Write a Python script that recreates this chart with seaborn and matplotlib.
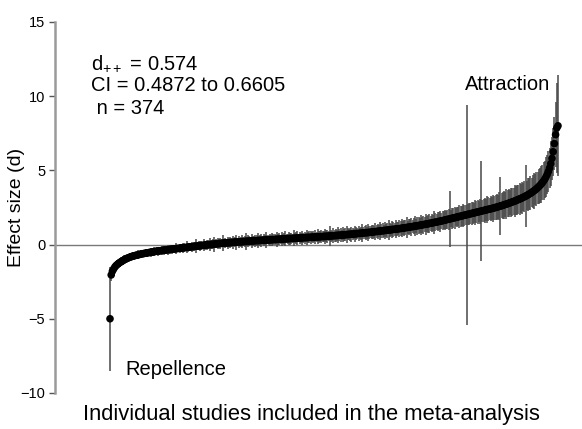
import numpy as np
import pandas as pd
import matplotlib
matplotlib.use("Agg")
import matplotlib.pyplot as plt
import seaborn as sns

# Effect sizes (d) of the 374 studies, sorted from lowest to highest
effect = [
    -5.00, -2.05, -1.80, -1.65, -1.52, -1.42, -1.35, -1.28, -1.22, -1.17, -1.12, -1.07, -1.02, -0.98, -0.94, -0.90, -0.87, -0.84, -0.81, -0.78,
    -0.76, -0.74, -0.72, -0.70, -0.68, -0.66, -0.64, -0.62, -0.61, -0.59, -0.58, -0.56, -0.55, -0.53, -0.52, -0.50, -0.49, -0.48, -0.46, -0.45,
    -0.44, -0.43, -0.42, -0.40, -0.39, -0.38, -0.37, -0.36, -0.35, -0.34, -0.33, -0.32, -0.31, -0.30, -0.29, -0.28, -0.27, -0.26, -0.25, -0.24,
    -0.23, -0.22, -0.21, -0.20, -0.19, -0.18, -0.17, -0.16, -0.15, -0.14, -0.13, -0.12, -0.11, -0.10, -0.09, -0.08, -0.07, -0.06, -0.05, -0.04,
    -0.03, -0.02, -0.01, 0.00, 0.00, 0.01, 0.02, 0.03, 0.04, 0.05, 0.06, 0.07, 0.07, 0.08, 0.09, 0.10, 0.10, 0.11, 0.12, 0.12,
    0.13, 0.14, 0.14, 0.15, 0.16, 0.16, 0.17, 0.18, 0.18, 0.19, 0.19, 0.20, 0.21, 0.21, 0.22, 0.22, 0.23, 0.24, 0.24, 0.25,
    0.25, 0.26, 0.26, 0.27, 0.27, 0.28, 0.28, 0.29, 0.29, 0.30, 0.30, 0.31, 0.31, 0.32, 0.32, 0.33, 0.33, 0.34, 0.34, 0.35,
    0.35, 0.36, 0.36, 0.37, 0.37, 0.38, 0.38, 0.39, 0.39, 0.40, 0.40, 0.41, 0.41, 0.42, 0.42, 0.43, 0.43, 0.44, 0.44, 0.45,
    0.45, 0.46, 0.46, 0.47, 0.47, 0.48, 0.48, 0.49, 0.49, 0.50, 0.50, 0.51, 0.51, 0.52, 0.52, 0.53, 0.53, 0.54, 0.54, 0.55,
    0.55, 0.56, 0.57, 0.57, 0.58, 0.59, 0.59, 0.60, 0.61, 0.61, 0.62, 0.63, 0.63, 0.64, 0.65, 0.65, 0.66, 0.67, 0.68, 0.68,
    0.69, 0.70, 0.71, 0.71, 0.72, 0.73, 0.74, 0.75, 0.75, 0.76, 0.77, 0.78, 0.79, 0.80, 0.80, 0.81, 0.82, 0.83, 0.84, 0.85,
    0.86, 0.87, 0.88, 0.89, 0.90, 0.91, 0.92, 0.93, 0.94, 0.95, 0.96, 0.97, 0.98, 0.99, 1.00, 1.01, 1.02, 1.03, 1.04, 1.05,
    1.06, 1.07, 1.08, 1.10, 1.11, 1.12, 1.13, 1.15, 1.16, 1.17, 1.19, 1.20, 1.21, 1.23, 1.24, 1.25, 1.27, 1.28, 1.30, 1.31,
    1.33, 1.34, 1.36, 1.37, 1.39, 1.40, 1.42, 1.44, 1.45, 1.47, 1.49, 1.50, 1.52, 1.54, 1.56, 1.57, 1.59, 1.61, 1.63, 1.65,
    1.67, 1.69, 1.71, 1.73, 1.75, 1.77, 1.79, 1.81, 1.83, 1.85, 1.87, 1.89, 1.91, 1.93, 1.95, 1.97, 1.99, 2.01, 2.03, 2.05,
    2.07, 2.09, 2.11, 2.13, 2.15, 2.17, 2.19, 2.21, 2.23, 2.25, 2.27, 2.29, 2.31, 2.33, 2.35, 2.37, 2.39, 2.41, 2.43, 2.45,
    2.47, 2.50, 2.52, 2.54, 2.57, 2.59, 2.62, 2.64, 2.67, 2.70, 2.72, 2.75, 2.78, 2.81, 2.84, 2.87, 2.90, 2.93, 2.96, 3.00,
    3.03, 3.07, 3.10, 3.14, 3.18, 3.22, 3.26, 3.30, 3.35, 3.40, 3.45, 3.50, 3.56, 3.62, 3.68, 3.75, 3.82, 3.90, 3.98, 4.07,
    4.17, 4.28, 4.40, 4.55, 4.72, 4.92, 5.15, 5.45, 5.80, 6.25, 6.80, 7.40, 7.85, 8.00,
]

# Half-width of each study's confidence interval
ci_half = [
    3.50, 0.40, 0.35, 0.30, 0.30, 0.28, 0.30, 0.25, 0.28, 0.30, 0.25, 0.28, 0.30, 0.25, 0.22, 0.28, 0.25, 0.30, 0.22, 0.25,
    0.28, 0.22, 0.25, 0.30, 0.22, 0.25, 0.28, 0.20, 0.25, 0.22, 0.28, 0.25, 0.20, 0.25, 0.30, 0.22, 0.25, 0.28, 0.22, 0.25,
    0.30, 0.25, 0.22, 0.28, 0.25, 0.30, 0.22, 0.25, 0.35, 0.25, 0.28, 0.22, 0.30, 0.25, 0.28, 0.35, 0.25, 0.22, 0.30, 0.28,
    0.25, 0.35, 0.28, 0.25, 0.40, 0.30, 0.25, 0.28, 0.35, 0.25, 0.30, 0.28, 0.45, 0.25, 0.30, 0.35, 0.28, 0.25, 0.40, 0.30,
    0.28, 0.35, 0.30, 0.45, 0.28, 0.30, 0.35, 0.50, 0.30, 0.28, 0.35, 0.30, 0.40, 0.28, 0.55, 0.30, 0.35, 0.28, 0.40, 0.30,
    0.35, 0.30, 0.45, 0.28, 0.35, 0.50, 0.30, 0.40, 0.28, 0.35, 0.45, 0.30, 0.35, 0.55, 0.30, 0.40, 0.35, 0.30, 0.45, 0.35,
    0.30, 0.40, 0.35, 0.50, 0.30, 0.35, 0.45, 0.30, 0.40, 0.35, 0.55, 0.30, 0.35, 0.40, 0.30, 0.45, 0.35, 0.40, 0.30, 0.50,
    0.35, 0.40, 0.30, 0.45, 0.35, 0.40, 0.50, 0.30, 0.35, 0.45, 0.40, 0.35, 0.30, 0.55, 0.35, 0.40, 0.45, 0.30, 0.40, 0.35,
    0.45, 0.35, 0.40, 0.30, 0.50, 0.35, 0.40, 0.45, 0.35, 0.40, 0.30, 0.45, 0.35, 0.50, 0.40, 0.35, 0.45, 0.40, 0.35, 0.50,
    0.40, 0.45, 0.35, 0.70, 0.40, 0.35, 0.50, 0.40, 0.45, 0.35, 0.55, 0.40, 0.45, 0.35, 0.50, 0.40, 0.45, 0.60, 0.40, 0.35,
    0.45, 0.50, 0.40, 0.35, 0.55, 0.45, 0.40, 0.50, 0.35, 0.45, 0.60, 0.40, 0.45, 0.50, 0.40, 0.55, 0.45, 0.40, 0.50, 0.45,
    0.40, 0.55, 0.45, 0.50, 0.40, 0.60, 0.45, 0.50, 0.40, 0.55, 0.45, 0.50, 0.65, 0.45, 0.40, 0.55, 0.50, 0.45, 0.60, 0.50,
    0.45, 0.55, 0.50, 0.60, 0.45, 0.55, 0.50, 0.70, 0.45, 0.55, 0.50, 0.60, 0.45, 0.55, 0.65, 0.50, 0.60, 0.55, 0.50, 0.65,
    0.55, 0.60, 0.50, 0.70, 0.55, 0.60, 0.65, 0.50, 0.60, 0.55, 0.75, 0.60, 0.55, 0.65, 0.60, 0.70, 0.55, 0.65, 0.60, 0.70,
    0.60, 0.65, 0.70, 1.90, 0.60, 0.70, 0.65, 0.75, 0.60, 0.70, 0.65, 0.80, 0.70, 0.65, 0.75, 0.70, 0.65, 7.40, 0.70, 0.75,
    0.70, 0.80, 0.75, 0.70, 0.85, 0.75, 0.80, 0.70, 0.85, 3.35, 0.75, 0.80, 0.85, 0.75, 0.90, 0.80, 0.75, 0.85, 0.80, 0.90,
    0.80, 0.85, 0.90, 0.80, 0.95, 1.95, 0.85, 0.90, 0.95, 0.85, 1.00, 0.90, 0.95, 0.85, 1.00, 0.95, 0.90, 1.05, 0.95, 1.00,
    0.95, 1.05, 1.00, 1.10, 0.95, 1.05, 2.10, 1.00, 1.10, 1.05, 1.15, 1.00, 1.10, 1.20, 1.05, 1.15, 1.10, 1.20, 1.15, 1.25,
    1.20, 1.30, 1.25, 1.35, 1.30, 1.40, 1.35, 1.50, 1.45, 1.60, 1.80, 2.20, 3.00, 3.40,
]

y_ticks = [-10, -5, 0, 5, 10, 15]
y_tick_labels = ["\u221210", "\u22125", "0", "5", "10", "15"]
stats_lines = ["d$_{++}$ = 0.574", "CI = 0.4872 to 0.6605", " n = 374"]

FONT = "Liberation Sans"


def build_frame():
    df = pd.DataFrame({"effect": effect, "half": ci_half})
    df["study"] = np.arange(len(df))
    df["lo"] = df["effect"] - df["half"]
    df["hi"] = df["effect"] + df["half"]
    return df


def main():
    sns.set_theme(style="white")
    plt.rcParams["font.family"] = [FONT, "DejaVu Sans"]
    plt.rcParams["mathtext.fontset"] = "custom"
    plt.rcParams["mathtext.rm"] = FONT
    plt.rcParams["mathtext.it"] = FONT
    plt.rcParams["text.color"] = "black"
    plt.rcParams["axes.labelcolor"] = "black"
    plt.rcParams["ytick.labelcolor"] = "black"

    df = build_frame()

    fig = plt.figure(figsize=(5.82, 4.29), dpi=100)
    ax = fig.add_axes([0.0945, 0.084, 0.9055, 0.865])

    ax.axhline(0, color="#7a7a7a", lw=1.0, zorder=1)
    ax.vlines(df["study"], df["lo"], df["hi"], color="#484848", lw=1.1, zorder=2)
    sns.scatterplot(data=df, x="study", y="effect", ax=ax, color="black",
                    s=30, edgecolor="none", linewidth=0, zorder=3, legend=False)

    ax.set_xlim(-45.8, 393)
    ax.set_ylim(-10, 15)
    ax.set_yticks(y_ticks)
    ax.set_yticklabels(y_tick_labels, fontsize=10.5)
    ax.set_xticks([])
    ax.set_xlabel("Individual studies included in the meta-analysis", fontsize=15.8)
    ax.xaxis.set_label_coords(0.486, -0.03)
    ax.set_ylabel("Effect size (d)", fontsize=14)
    ax.yaxis.set_label_coords(-0.057, 0.5)

    sns.despine(ax=ax, top=True, right=True, bottom=True)
    ax.spines["left"].set_color("#9a9a9a")
    ax.spines["left"].set_linewidth(1.8)
    ax.tick_params(axis="y", left=True, length=4, width=1, color="#555555", pad=3)

    y0 = 0.888
    for k, line in enumerate(stats_lines):
        ax.text(0.068, y0 - k * 0.0607, line, transform=ax.transAxes,
                fontsize=14.5, va="center", ha="left")

    ax.text(0.778, 0.83, "Attraction", transform=ax.transAxes, fontsize=14.5,
            va="center", ha="left")
    ax.text(0.133, 0.064, "Repellence", transform=ax.transAxes, fontsize=14.5,
            va="center", ha="left")

    fig.savefig("out.png", dpi=100)
    plt.close(fig)


if __name__ == "__main__":
    main()
